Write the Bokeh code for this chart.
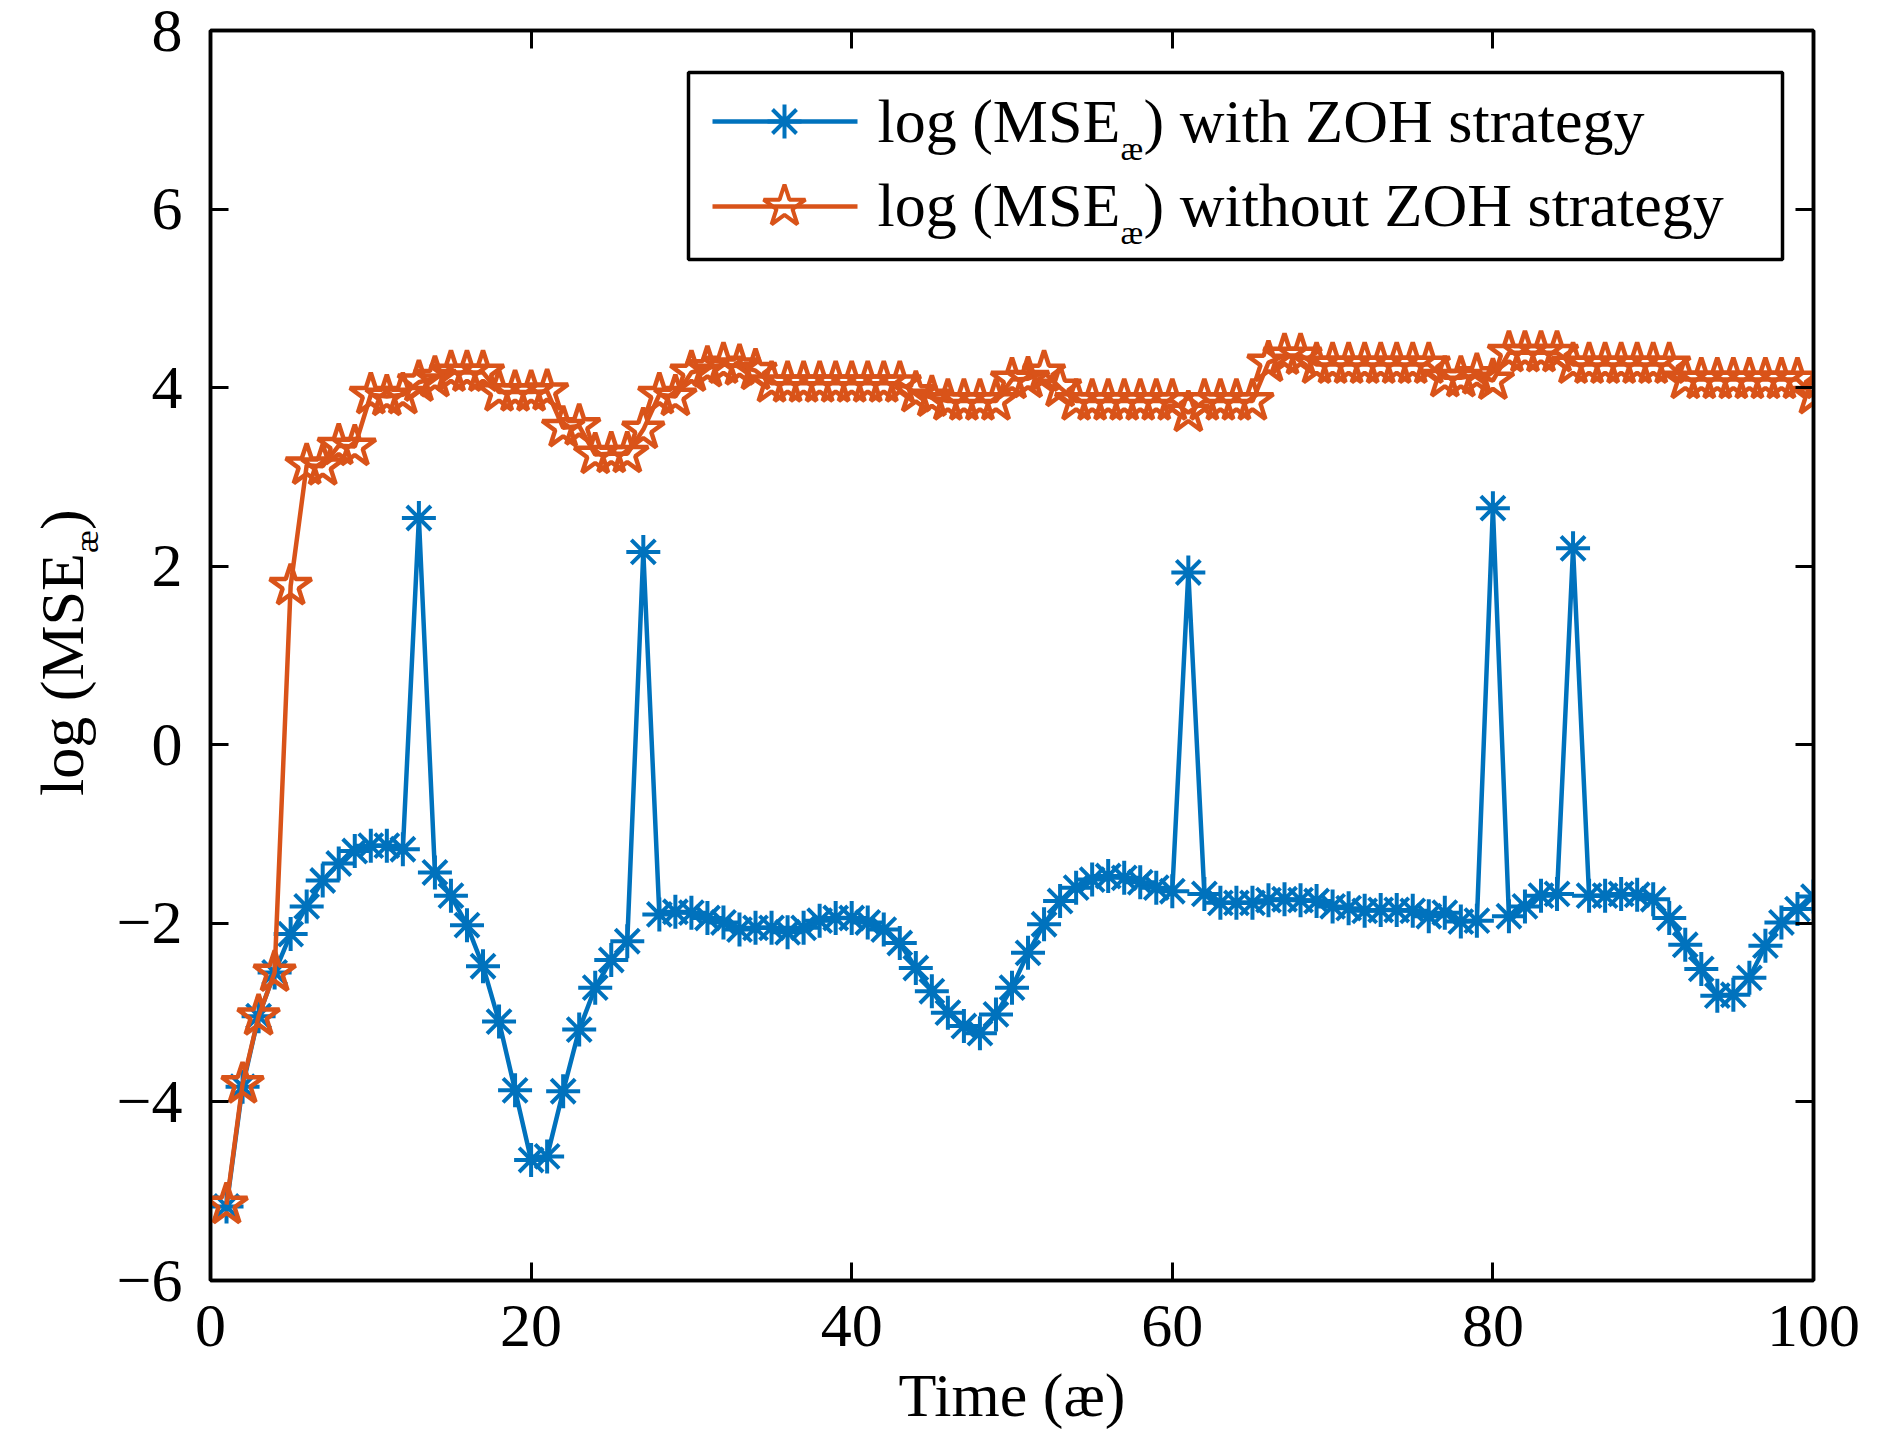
from math import pi

from bokeh.core.properties import value
from bokeh.embed import file_html
from bokeh.layouts import row
from bokeh.models import BoxAnnotation, CustomJSTickFormatter, Label, LinearAxis, Range1d
from bokeh.plotting import figure
from bokeh.resources import INLINE

# time steps and the two error curves
time = list(range(1, 101))

mse_zoh = [
    -5.17, -3.83, -3.04, -2.55, -2.12, -1.81, -1.52, -1.33, -1.19, -1.13,
    -1.13, -1.17, 2.54, -1.43, -1.69, -2.02, -2.48, -3.10, -3.87, -4.65,
    -4.61, -3.88, -3.19, -2.72, -2.41, -2.20, 2.16, -1.90, -1.87, -1.88,
    -1.94, -1.99, -2.07, -2.05, -2.05, -2.10, -2.05, -1.97, -1.94, -1.94,
    -1.99, -2.07, -2.22, -2.50, -2.76, -3.00, -3.15, -3.23, -3.02, -2.72,
    -2.33, -2.01, -1.75, -1.60, -1.51, -1.47, -1.49, -1.54, -1.60, -1.64,
    1.93, -1.67, -1.77, -1.77, -1.77, -1.74, -1.73, -1.74, -1.75, -1.81,
    -1.83, -1.86, -1.85, -1.85, -1.86, -1.92, -1.88, -1.98, -1.97, 2.65,
    -1.92, -1.81, -1.69, -1.67, 2.20, -1.69, -1.69, -1.67, -1.68, -1.73,
    -1.94, -2.24, -2.51, -2.81, -2.80, -2.61, -2.25, -1.99, -1.84, -1.70,
]

mse_no_zoh = [
    -5.15, -3.80, -3.04, -2.55, 1.78, 3.13, 3.12, 3.35, 3.34, 3.92,
    3.90, 3.92, 4.06, 4.11, 4.17, 4.17, 4.17, 3.95, 3.95, 3.95,
    3.96, 3.55, 3.57, 3.25, 3.26, 3.26, 3.53, 3.92, 3.90, 4.17,
    4.22, 4.26, 4.24, 4.19, 4.05, 4.05, 4.05, 4.05, 4.05, 4.05,
    4.05, 4.05, 4.05, 3.94, 3.89, 3.85, 3.85, 3.85, 3.85, 4.09,
    4.10, 4.17, 4.00, 3.85, 3.85, 3.85, 3.85, 3.85, 3.85, 3.85,
    3.72, 3.85, 3.85, 3.85, 3.85, 4.28, 4.36, 4.36, 4.26, 4.26,
    4.26, 4.26, 4.26, 4.26, 4.26, 4.26, 4.11, 4.11, 4.14, 4.08,
    4.39, 4.39, 4.39, 4.39, 4.26, 4.26, 4.26, 4.26, 4.26, 4.26,
    4.26, 4.09, 4.09, 4.09, 4.09, 4.09, 4.09, 4.09, 4.09, 3.92,
]

x_ticks = [0, 20, 40, 60, 80, 100]
y_ticks = [-6, -4, -2, 0, 2, 4, 6, 8]
y_tick_labels = {-6: "\u22126", -4: "\u22124", -2: "\u22122"}

BLUE = "#0072BD"
ORANGE = "#D95319"
FONT = "Liberation Serif"
FS = "62px"
SUB_FS = "34px"
LW = 4.5

# frame placement on the page (pixels)
LAB_W = 104
FRAME_L, FRAME_T, FRAME_W, FRAME_H = 210, 30, 1603, 1250
X0, X1, Y0, Y1 = 0, 100, -6, 8


def dx(px):
    return X0 + (px - FRAME_L) / FRAME_W * (X1 - X0)


def dy(py):
    return Y1 - (py - FRAME_T) / FRAME_H * (Y1 - Y0)


p = figure(frame_width=FRAME_W, frame_height=FRAME_H,
           x_range=Range1d(X0, X1), y_range=Range1d(Y0, Y1),
           min_border_left=FRAME_L - LAB_W, min_border_top=FRAME_T,
           min_border_right=1872 - FRAME_L - FRAME_W, min_border_bottom=0,
           output_backend="svg", toolbar_location=None, tools="")

# narrow strip on the left that holds the y label (with its subscript);
# it shares the y range so its frame lines up with the main plot
ylab = figure(width=LAB_W, height=1430, x_range=Range1d(0, LAB_W), y_range=p.y_range,
              x_axis_location=None, y_axis_location=None, min_border=0,
              outline_line_color=None, output_backend="svg", toolbar_location=None, tools="")
ylab.xgrid.visible = False
ylab.ygrid.visible = False
ylab.text(x=[61, 61], y=[dy(796), dy(530)], text=["log (MSE", ")"], angle=pi / 2,
          text_font=value(FONT), text_font_size=FS, text_color="black",
          text_baseline="alphabetic", text_align="left")
ylab.text(x=[86], y=[dy(553)], text=["æ"], angle=pi / 2,
          text_font=value(FONT), text_font_size=SUB_FS, text_color="black",
          text_baseline="alphabetic", text_align="left")

# mirrored axes (ticks only) on top and right, matlab-style box
empty = CustomJSTickFormatter(code="return ''")
top_axis = LinearAxis(ticker=x_ticks, formatter=empty)
right_axis = LinearAxis(ticker=y_ticks, formatter=empty)
p.add_layout(top_axis, "above")
p.add_layout(right_axis, "right")

p.axis.major_tick_in = 18
p.axis.major_tick_out = 0
p.axis.minor_tick_in = 0
p.axis.minor_tick_out = 0
p.axis.axis_line_width = 3.5
p.axis.major_tick_line_width = 3
p.axis.major_label_text_font = FONT
p.axis.major_label_text_font_size = FS
p.axis.major_label_text_color = "black"

xax = p.below[0]
yax = p.left[0]
xax.ticker = x_ticks
yax.ticker = y_ticks
yax.major_label_overrides = y_tick_labels
xax.major_label_standoff = 25
yax.major_label_standoff = 28
for ax in (top_axis, right_axis):
    ax.major_label_standoff = 0
    ax.major_label_text_font_size = "11px"

xax.axis_label = "Time (æ)"
xax.axis_label_text_font = FONT
xax.axis_label_text_font_size = FS
xax.axis_label_text_font_style = "normal"
xax.axis_label_text_color = "black"
xax.axis_label_standoff = 12

p.grid.visible = False
p.outline_line_color = "black"
p.outline_line_width = 3.5

# data
p.line(time, mse_zoh, line_color=BLUE, line_width=LW)
p.scatter(time, mse_zoh, marker="asterisk", size=34, line_color=BLUE, line_width=4)
p.line(time, mse_no_zoh, line_color=ORANGE, line_width=LW)
p.scatter(time, mse_no_zoh, marker="star", size=44, line_color=ORANGE,
          fill_color=None, line_width=LW)

# legend box
box = BoxAnnotation(left=dx(688), right=dx(1782), top=dy(72), bottom=dy(259),
                    fill_color="white", fill_alpha=1, line_color="black",
                    line_alpha=1, line_width=3.5, level="underlay")
p.add_layout(box)

rows = [(121, 120, BLUE, "asterisk", 34, ") with ZOH strategy"),
        (206, 204, ORANGE, "star", 44, ") without ZOH strategy")]
for cy, base, col, mk, sz, tail in rows:
    p.line([dx(712), dx(857)], [dy(cy), dy(cy)], line_color=col, line_width=LW)
    p.scatter([dx(784)], [dy(cy)], marker=mk, size=sz, line_color=col,
              fill_color=None, line_width=4)
    p.add_layout(Label(x=dx(877), y=dy(base), text="log (MSE", text_font=FONT,
                       text_font_size=FS, text_color="black", text_baseline="alphabetic"))
    p.add_layout(Label(x=dx(1120), y=dy(base + 28), text="æ", text_font=FONT,
                       text_font_size=SUB_FS, text_color="black", text_baseline="alphabetic"))
    p.add_layout(Label(x=dx(1143), y=dy(base), text=tail, text_font=FONT,
                       text_font_size=FS, text_color="black", text_baseline="alphabetic"))

open("out.html", "w").write(file_html(row(ylab, p), INLINE))
